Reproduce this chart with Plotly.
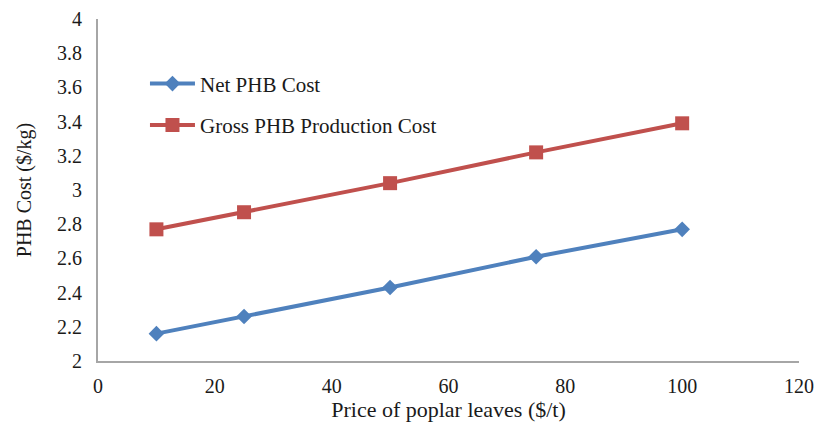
import plotly.graph_objects as go

price = [10, 25, 50, 75, 100]
net_cost = [2.16, 2.26, 2.43, 2.61, 2.77]
gross_cost = [2.77, 2.87, 3.04, 3.22, 3.39]
x_ticks = [0, 20, 40, 60, 80, 100, 120]
y_ticks = [2, 2.2, 2.4, 2.6, 2.8, 3, 3.2, 3.4, 3.6, 3.8, 4]
y_labels = ["2", "2.2", "2.4", "2.6", "2.8", "3", "3.2", "3.4", "3.6", "3.8", "4"]

FAM = "Liberation Serif"
tf = dict(family=FAM, size=20, color="#1a1a1a")
lf = dict(family=FAM, size=21, color="#1a1a1a")
xt = dict(family=FAM, size=22, color="#1a1a1a")
yt = dict(family=FAM, size=20, color="#1a1a1a")

fig = go.Figure()
fig.add_trace(go.Scatter(
    x=price, y=net_cost, name="Net PHB Cost", mode="lines+markers",
    legendgroup="a",
    line=dict(color="#4F81BD", width=4),
    marker=dict(symbol="diamond", size=12, color="#4F81BD"),
))
fig.add_trace(go.Scatter(
    x=price, y=gross_cost, name="Gross PHB Production Cost", mode="lines+markers",
    legendgroup="b",
    line=dict(color="#C0504D", width=4),
    marker=dict(symbol="square", size=14, color="#C0504D"),
))

fig.update_layout(
    width=815, height=433, autosize=False,
    margin=dict(l=98, r=16, t=19, b=72, autoexpand=False),
    paper_bgcolor="white", plot_bgcolor="white",
    font=tf,
    showlegend=True,
    legend=dict(x=0.067, y=0.87, xanchor="left", yanchor="top",
                bgcolor="rgba(0,0,0,0)", font=lf, traceorder="grouped",
                tracegroupgap=11, itemwidth=45),
    xaxis=dict(range=[0, 120], tickvals=x_ticks, showgrid=False, zeroline=False,
               showline=True, linecolor="#A6A6A6", linewidth=2, ticks="",
               ticklabelstandoff=6,
               title=dict(text="Price of poplar leaves ($/t)", standoff=3, font=xt),
               tickfont=tf, automargin=False),
    yaxis=dict(range=[2, 4], tickvals=y_ticks, ticktext=y_labels, showgrid=False,
               zeroline=False, showline=True, linecolor="#A6A6A6", linewidth=2,
               ticks="", ticklabelstandoff=10,
               title=dict(text="PHB Cost ($/kg)", standoff=20, font=yt),
               tickfont=tf, automargin=False),
)

fig.write_html(
    "out.html",
    config={"displayModeBar": False},
    post_script="document.body.style.margin='0';document.body.style.overflow='hidden';",
)
